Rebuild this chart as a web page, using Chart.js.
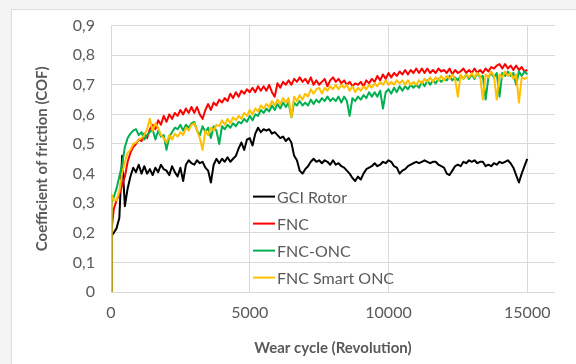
<!DOCTYPE html>
<html>
<head>
<meta charset="utf-8">
<script src="https://cdn.jsdelivr.net/npm/chart.js@4"></script>
<style>
    html, body { margin: 0; padding: 0; background: #f4f4f4; overflow: hidden; }
    #frame { position: absolute; left: 11px; top: 9px; width: 600px; height: 400px; background: #fff;
             border-left: 1px solid #dcdcdc; border-top: 1px solid #dcdcdc; }
    #wrap { position: absolute; left: 0; top: 0; width: 576px; height: 364px; }
</style>
</head>
<body>
<div id="frame"></div>
<div id="wrap"><canvas id="cofChart" width="576" height="364"></canvas></div>
<script>
// Wear cycle (revolutions): start point, then one sample every 100 rev
const revs = [
    0, 20, 100, 200, 300, 400, 500, 600, 700, 800, 900,
    1000, 1100, 1200, 1300, 1400, 1500, 1600, 1700, 1800, 1900,
    2000, 2100, 2200, 2300, 2400, 2500, 2600, 2700, 2800, 2900,
    3000, 3100, 3200, 3300, 3400, 3500, 3600, 3700, 3800, 3900,
    4000, 4100, 4200, 4300, 4400, 4500, 4600, 4700, 4800, 4900,
    5000, 5100, 5200, 5300, 5400, 5500, 5600, 5700, 5800, 5900,
    6000, 6100, 6200, 6300, 6400, 6500, 6600, 6700, 6800, 6900,
    7000, 7100, 7200, 7300, 7400, 7500, 7600, 7700, 7800, 7900,
    8000, 8100, 8200, 8300, 8400, 8500, 8600, 8700, 8800, 8900,
    9000, 9100, 9200, 9300, 9400, 9500, 9600, 9700, 9800, 9900,
    10000, 10100, 10200, 10300, 10400, 10500, 10600, 10700, 10800, 10900,
    11000, 11100, 11200, 11300, 11400, 11500, 11600, 11700, 11800, 11900,
    12000, 12100, 12200, 12300, 12400, 12500, 12600, 12700, 12800, 12900,
    13000, 13100, 13200, 13300, 13400, 13500, 13600, 13700, 13800, 13900,
    14000, 14100, 14200, 14300, 14400, 14500, 14600, 14700, 14800, 14900,
    15000
];

// GCI Rotor
const gciRotor = [
    0, 0.19, 0.20, 0.215, 0.25, 0.46, 0.29, 0.35, 0.39, 0.42, 0.405,
    0.43, 0.40, 0.425, 0.40, 0.415, 0.395, 0.42, 0.405, 0.43, 0.415,
    0.41, 0.395, 0.425, 0.405, 0.39, 0.42, 0.375, 0.43, 0.445, 0.435,
    0.43, 0.445, 0.435, 0.44, 0.42, 0.41, 0.37, 0.43, 0.45, 0.435,
    0.45, 0.44, 0.455, 0.44, 0.45, 0.46, 0.485, 0.505, 0.48, 0.515,
    0.52, 0.495, 0.535, 0.555, 0.54, 0.55, 0.545, 0.55, 0.535, 0.54,
    0.53, 0.52, 0.525, 0.51, 0.52, 0.505, 0.46, 0.445, 0.41, 0.40,
    0.415, 0.425, 0.44, 0.45, 0.44, 0.445, 0.435, 0.445, 0.44, 0.43,
    0.445, 0.43, 0.435, 0.425, 0.42, 0.41, 0.40, 0.385, 0.375, 0.39,
    0.38, 0.40, 0.415, 0.42, 0.425, 0.435, 0.425, 0.43, 0.44, 0.435,
    0.445, 0.44, 0.425, 0.42, 0.40, 0.41, 0.415, 0.425, 0.43, 0.435,
    0.44, 0.435, 0.44, 0.445, 0.44, 0.435, 0.44, 0.44, 0.43, 0.425,
    0.42, 0.40, 0.395, 0.41, 0.425, 0.43, 0.425, 0.44, 0.435, 0.445,
    0.44, 0.445, 0.435, 0.44, 0.44, 0.425, 0.43, 0.425, 0.435, 0.43,
    0.44, 0.435, 0.44, 0.445, 0.435, 0.42, 0.395, 0.37, 0.40, 0.425,
    0.45
];

// FNC
const fnc = [
    0, 0.21, 0.28, 0.31, 0.33, 0.36, 0.39, 0.44, 0.47, 0.49, 0.50,
    0.515, 0.51, 0.535, 0.52, 0.55, 0.565, 0.55, 0.58, 0.565, 0.595,
    0.575, 0.60, 0.585, 0.605, 0.595, 0.615, 0.60, 0.62, 0.605, 0.625,
    0.605, 0.625, 0.60, 0.585, 0.615, 0.635, 0.615, 0.64, 0.63, 0.65,
    0.64, 0.655, 0.645, 0.67, 0.655, 0.675, 0.66, 0.68, 0.67, 0.685,
    0.675, 0.69, 0.675, 0.695, 0.68, 0.695, 0.68, 0.70, 0.675, 0.66,
    0.705, 0.69, 0.71, 0.70, 0.715, 0.70, 0.72, 0.71, 0.725, 0.71,
    0.72, 0.705, 0.725, 0.70, 0.715, 0.70, 0.71, 0.72, 0.695, 0.715,
    0.725, 0.71, 0.72, 0.705, 0.715, 0.70, 0.71, 0.695, 0.705, 0.70,
    0.71, 0.695, 0.715, 0.705, 0.72, 0.71, 0.73, 0.715, 0.735, 0.72,
    0.74, 0.725, 0.74, 0.73, 0.745, 0.735, 0.75, 0.735, 0.75, 0.74,
    0.755, 0.74, 0.755, 0.74, 0.755, 0.74, 0.75, 0.74, 0.755, 0.745,
    0.75, 0.74, 0.755, 0.735, 0.75, 0.74, 0.745, 0.755, 0.74, 0.75,
    0.74, 0.755, 0.74, 0.75, 0.74, 0.755, 0.745, 0.76, 0.755, 0.765,
    0.77, 0.755, 0.77, 0.755, 0.765, 0.75, 0.765, 0.75, 0.76, 0.745,
    0.75
];

// FNC-ONC
const fncOnc = [
    0, 0.30, 0.32, 0.35, 0.39, 0.43, 0.49, 0.52, 0.535, 0.545, 0.55,
    0.53, 0.54, 0.515, 0.53, 0.54, 0.55, 0.515, 0.545, 0.525, 0.53,
    0.48, 0.525, 0.54, 0.555, 0.55, 0.565, 0.545, 0.565, 0.555, 0.57,
    0.575, 0.545, 0.53, 0.56, 0.54, 0.555, 0.52, 0.56, 0.545, 0.50,
    0.56, 0.55, 0.565, 0.555, 0.57, 0.56, 0.575, 0.57, 0.585, 0.575,
    0.595, 0.58, 0.60, 0.595, 0.615, 0.605, 0.62, 0.61, 0.63, 0.615,
    0.635, 0.62, 0.64, 0.625, 0.64, 0.59, 0.64, 0.63, 0.645, 0.63,
    0.64, 0.63, 0.65, 0.635, 0.65, 0.64, 0.655, 0.645, 0.66, 0.645,
    0.655, 0.645, 0.66, 0.64, 0.66, 0.645, 0.595, 0.655, 0.645, 0.66,
    0.65, 0.665, 0.655, 0.675, 0.66, 0.675, 0.66, 0.68, 0.62, 0.675,
    0.685, 0.67, 0.69, 0.675, 0.695, 0.68, 0.695, 0.685, 0.70, 0.69,
    0.70, 0.69, 0.71, 0.695, 0.715, 0.70, 0.715, 0.705, 0.72, 0.71,
    0.72, 0.715, 0.73, 0.715, 0.725, 0.715, 0.73, 0.72, 0.735, 0.72,
    0.735, 0.72, 0.74, 0.725, 0.73, 0.65, 0.725, 0.74, 0.725, 0.74,
    0.66, 0.74, 0.73, 0.745, 0.73, 0.74, 0.70, 0.745, 0.73, 0.745,
    0.735
];

// FNC Smart ONC
const fncSmartOnc = [
    0, 0.33, 0.31, 0.31, 0.34, 0.40, 0.44, 0.47, 0.48, 0.50, 0.505,
    0.515, 0.52, 0.53, 0.55, 0.585, 0.545, 0.57, 0.555, 0.53, 0.52,
    0.505, 0.53, 0.515, 0.535, 0.525, 0.54, 0.53, 0.555, 0.545, 0.565,
    0.57, 0.545, 0.52, 0.48, 0.545, 0.53, 0.555, 0.545, 0.565, 0.56,
    0.58, 0.565, 0.585, 0.57, 0.59, 0.58, 0.595, 0.585, 0.605, 0.595,
    0.615, 0.60, 0.62, 0.61, 0.63, 0.62, 0.635, 0.625, 0.645, 0.63,
    0.65, 0.635, 0.655, 0.64, 0.655, 0.59, 0.66, 0.645, 0.665, 0.65,
    0.67, 0.66, 0.685, 0.67, 0.685, 0.69, 0.67, 0.69, 0.68, 0.695,
    0.685, 0.70, 0.685, 0.70, 0.69, 0.70, 0.68, 0.695, 0.675, 0.69,
    0.68, 0.695, 0.685, 0.70, 0.69, 0.705, 0.695, 0.71, 0.70, 0.715,
    0.70, 0.71, 0.70, 0.715, 0.705, 0.715, 0.70, 0.715, 0.70, 0.71,
    0.70, 0.715, 0.705, 0.72, 0.71, 0.725, 0.71, 0.725, 0.715, 0.73,
    0.715, 0.73, 0.72, 0.735, 0.72, 0.66, 0.735, 0.72, 0.735, 0.725,
    0.74, 0.725, 0.74, 0.73, 0.65, 0.735, 0.725, 0.745, 0.73, 0.65,
    0.735, 0.725, 0.745, 0.73, 0.74, 0.72, 0.735, 0.64, 0.725, 0.72,
    0.725
];

const seriesNames = ["GCI Rotor", "FNC", "FNC-ONC", "FNC Smart ONC"];
const seriesColors = ["#000000", "#ff0000", "#00b050", "#ffc000"];
const yTicks = [0, 0.1, 0.2, 0.3, 0.4, 0.5, 0.6, 0.7, 0.8, 0.9];
const xTicks = [0, 5000, 10000, 15000];

const textGray = "#595959";
const gridGray = "#d9d9d9";

// Legend inside the plot, like the Excel one
const plotLegend = {
    id: "plotLegend",
    afterDatasetsDraw(chart) {
        const { ctx, chartArea } = chart;
        const x = chartArea.left + 142;
        ctx.save();
        ctx.font = "16px Lato";
        ctx.textBaseline = "middle";
        chart.data.datasets.forEach((ds, i) => {
            const y = chartArea.top + 171 + i * 27;
            ctx.strokeStyle = ds.borderColor;
            ctx.lineWidth = 2;
            ctx.beginPath();
            ctx.moveTo(x, y);
            ctx.lineTo(x + 22, y);
            ctx.stroke();
            ctx.fillStyle = textGray;
            ctx.fillText(ds.label, x + 24, y + 1);
        });
        ctx.restore();
    }
};

function makeSet(i, values) {
    return {
        label: seriesNames[i],
        data: revs.map((r, k) => ({ x: r, y: values[k] })),
        borderColor: seriesColors[i],
        backgroundColor: seriesColors[i],
        borderWidth: 2,
        pointRadius: 0,
        tension: 0,
        borderJoinStyle: "round",
        order: 4 - i
    };
}

function drawChart() {
    const ctx = document.getElementById("cofChart").getContext("2d");
    new Chart(ctx, {
        type: "line",
        data: {
            datasets: [
                makeSet(0, gciRotor),
                makeSet(1, fnc),
                makeSet(2, fncOnc),
                makeSet(3, fncSmartOnc)
            ]
        },
        options: {
            responsive: false,
            animation: false,
            devicePixelRatio: 1,
            layout: { padding: { left: 0, right: 21, top: 24, bottom: 0 } },
            plugins: { legend: { display: false }, tooltip: { enabled: false } },
            scales: {
                x: {
                    type: "linear",
                    min: 0,
                    max: 16000,
                    afterBuildTicks: s => { s.ticks = xTicks.map(v => ({ value: v })); },
                    afterFit: s => { s.height = 72; },
                    ticks: {
                        color: textGray,
                        font: { family: "Lato", size: 16 },
                        padding: 11,
                        maxRotation: 0,
                        callback: v => String(v)
                    },
                    grid: { color: gridGray, lineWidth: 1, drawTicks: false },
                    border: { display: false },
                    title: {
                        display: true,
                        text: "Wear cycle (Revolution)",
                        color: textGray,
                        font: { family: "Lato", size: 15, weight: "bold" },
                        padding: { top: 0, bottom: 7 }
                    }
                },
                y: {
                    min: 0,
                    max: 0.9,
                    afterBuildTicks: s => { s.ticks = yTicks.map(v => ({ value: v })); },
                    afterFit: s => { s.width = 111; },
                    ticks: {
                        color: textGray,
                        font: { family: "Lato", size: 16 },
                        padding: 16,
                        callback: v => v === 0 ? "0" : v.toFixed(1).replace(".", ",")
                    },
                    grid: { color: gridGray, lineWidth: 1, drawTicks: false },
                    border: { display: false },
                    title: {
                        display: true,
                        text: "Coefficient of friction (COF)",
                        color: textGray,
                        font: { family: "Lato", size: 15, weight: "bold" },
                        padding: { top: 33, bottom: 0 }
                    }
                }
            }
        },
        plugins: [plotLegend]
    });
}

document.fonts.load("16px Lato").then(drawChart, drawChart);
</script>
</body>
</html>
